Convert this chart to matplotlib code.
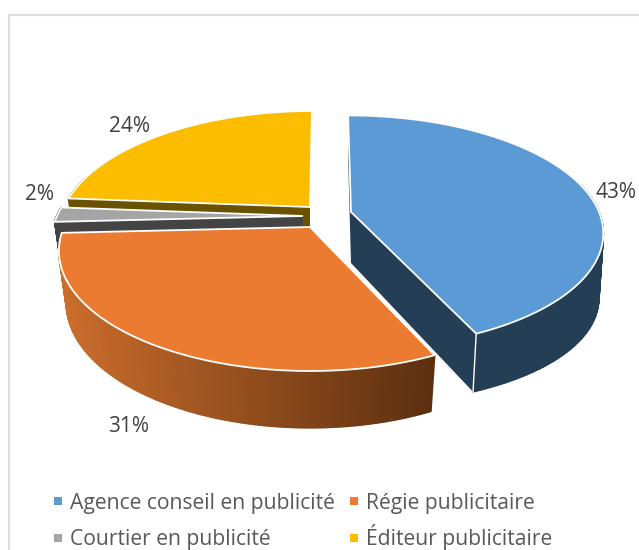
import numpy as np
import matplotlib
matplotlib.use('Agg')
import matplotlib.pyplot as plt
from matplotlib.collections import PolyCollection
from matplotlib.colors import to_rgb

# data
categories = ['Agence conseil en publicité', 'Régie publicitaire',
              'Courtier en publicité', 'Éditeur publicitaire']
values = [43.2, 31.0, 2.0, 23.8]

# look of each slice
top_colors = ['#5B9AD5', '#EB7B30', '#A5A5A5', '#FCBD00']
side_colors = ['#243E55', '#6B3A14', '#444444', '#6B5200']
apex_x = [351, 310, 303, 310]
apex_y = [212, 227, 216, 207]
lean = [0.03, 0.0, 0.0, -0.02]
disc_a = [248.0, 246.0, 246.0, 246.0]
disc_b = [113.0, 115.2, 115.2, 115.2]
disc_k = [0.17, 0.2, 0.2, 0.2]
side_bulge = [13.0, 0.0, 0.0, 0.0]
label_pos = [(616, 192), (129, 426), (40, 195), (130, 127)]
legend_pos = [(58, 501), (354, 501), (58, 538), (354, 538)]

# projection of the disc (pixels)
DEPTH, SX, SY = 51.0, 0.97, 1.04


def project(i, theta):
    # theta in degrees, clockwise from the top
    t = np.radians(theta)
    d = 1 + disc_k[i] * np.cos(t)
    return disc_a[i] * np.sin(t) / d, -disc_b[i] * np.cos(t) / d


def top_pts(i, theta):
    x, y = project(i, theta)
    return apex_x[i] + x + lean[i] * y, apex_y[i] + y


def bottom_pts(i, theta):
    x, y = project(i, theta)
    s2 = np.sin(np.radians(theta)) ** 2
    return (apex_x[i] + SX * (x + lean[i] * y) + 0.25 * side_bulge[i] * s2,
            apex_y[i] + DEPTH + SY * y + side_bulge[i] * s2)


def wedge_range(i):
    start = sum(values[:i]) * 3.6
    return start, start + values[i] * 3.6


fig = plt.figure(figsize=(6.39, 5.5), dpi=100)
ax = fig.add_axes([0, 0, 1, 1])
ax.set_xlim(0, 639)
ax.set_ylim(550, 0)
ax.axis('off')

# chart frame
ax.plot([9, 9, 639], [550, 15, 15], color='#DDDDDD', lw=1.6, zorder=0)


def draw_sides(i, gradient=False):
    start, end = wedge_range(i)
    th = np.linspace(start, end, 160)
    tx, ty = top_pts(i, th)
    bx, by = bottom_pts(i, th)
    ax_, ay_ = apex_x[i], apex_y[i]

    # the two cut faces, the one at the very back of the yellow slice is hidden
    faces = [0, -1] if end < 359 else [0]
    for j in faces:
        ax.fill([ax_, tx[j], bx[j], ax_], [ay_, ty[j], by[j], ay_ + DEPTH],
                color=side_colors[i], lw=0)

    # rim, one quad per step so the overlaps do not cancel out
    quads = []
    cols = []
    light = np.array(to_rgb('#CB6D2C'))
    dark = np.array(to_rgb('#5C2F0F'))
    for k in range(len(th) - 1):
        # the back of the rim can't be seen
        if th[k] < 75 or th[k] > 285:
            continue
        quads.append([(tx[k], ty[k]), (tx[k + 1], ty[k + 1]), (bx[k + 1], by[k + 1]), (bx[k], by[k])])
        if gradient:
            f = (tx[k] - tx.min()) / (tx.max() - tx.min())
            cols.append(dark * f + light * (1 - f))
        else:
            cols.append(to_rgb(side_colors[i]))
    ax.add_collection(PolyCollection(quads, facecolors=cols, edgecolors=cols, linewidths=1.2))


def draw_top(i):
    start, end = wedge_range(i)
    th = np.linspace(start, end, 160)
    tx, ty = top_pts(i, th)
    ax.fill(np.r_[apex_x[i], tx], np.r_[apex_y[i], ty], facecolor=top_colors[i],
            edgecolor='white', lw=1.3, joinstyle='miter')


# back to front
draw_sides(3)
draw_top(3)
draw_sides(2)
draw_top(2)
draw_sides(0)
draw_top(0)
# white seam on the blue front corner
start0, end0 = wedge_range(0)
xa, ya = top_pts(0, end0)
xb, yb = bottom_pts(0, end0)
ax.plot([xa, xb], [ya, yb], color='white', lw=1.0)
draw_sides(1, gradient=True)
draw_top(1)

# data labels
font = 'Open Sans'
for v, (lx, ly) in zip(values, label_pos):
    ax.text(lx, ly, '%d%%' % round(v), ha='center', va='center', fontsize=15,
            color='#404040', family=font)

# legend
for name, col, (lx, ly) in zip(categories, top_colors, legend_pos):
    ax.plot([lx], [ly], marker='s', ms=5.2, color=col, mew=0, ls='none')
    ax.text(lx + 12, ly + 7.5, name, ha='left', va='baseline', fontsize=15.2,
            color='#595959', family=font)

fig.savefig('out.png', dpi=100)
